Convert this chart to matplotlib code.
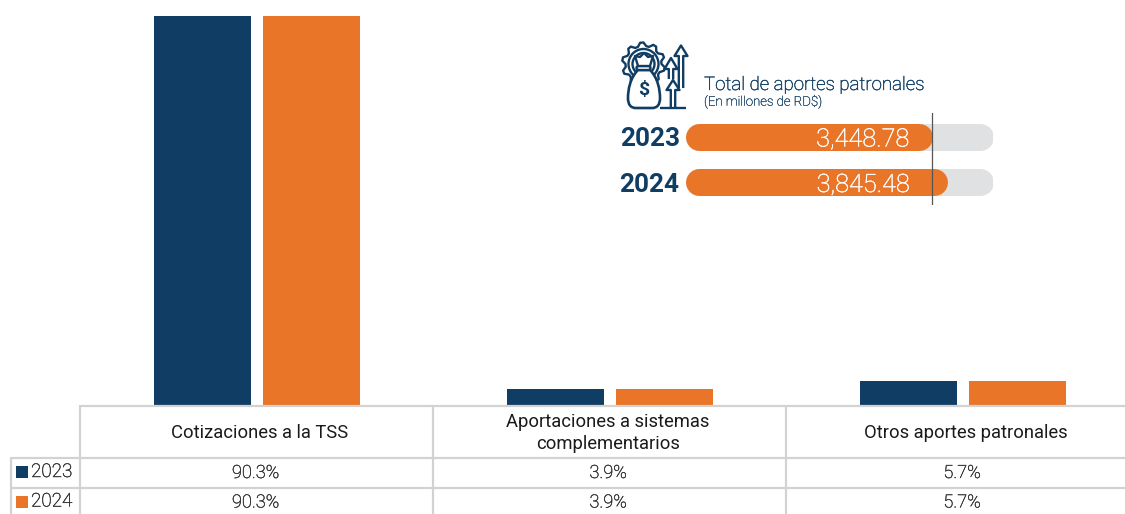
import numpy as np
import matplotlib
matplotlib.use("Agg")
import matplotlib.pyplot as plt
import matplotlib.patheffects as pe
from matplotlib.patches import Circle, FancyBboxPatch, Polygon, PathPatch, Rectangle
from matplotlib.path import Path

plt.rcParams['font.family'] = ['Roboto', 'DejaVu Sans']

categories = ["Cotizaciones a la TSS", "Aportaciones a sistemas\ncomplementarios", "Otros aportes patronales"]
years = ["2023", "2024"]
share_2023 = [90.3, 3.9, 5.7]
share_2024 = [90.3, 3.9, 5.7]
totals = [3448.78, 3845.48]

NAVY = '#103d63'
ORANGE = '#e97628'
TRACK = '#e0e1e3'
GRID = '#d2d2d2'
W, H = 1125, 514

fig = plt.figure(figsize=(W / 100, H / 100), dpi=100, facecolor='white')

def px_axes(left, top, right, bottom):
    return fig.add_axes([left / W, 1 - bottom / H, (right - left) / W, (bottom - top) / H])

def light_text(x, y, s, color, size, ha='left', stroke=0.3):
    # Roboto Light renders too thin here, a hairline stroke brings it closer
    t = ov.text(x, y, s, ha=ha, va='center', fontsize=size, color=color, fontweight='light')
    t.set_path_effects([pe.withStroke(linewidth=stroke, foreground=color)])
    return t

# Bars
ax = px_axes(80, 16, 1139, 405.5)
x = np.arange(len(categories))
bar_w = 97 / 353
off = 54.5 / 353
ax.bar(x - off, share_2023, bar_w, color=NAVY)
ax.bar(x + off, share_2024, bar_w, color=ORANGE)
ax.set_xlim(-0.5, 2.5)
ax.set_ylim(0, 90.3)
ax.axis('off')

# Overlay in pixel coordinates: table, titles, icon
ov = fig.add_axes([0, 0, 1, 1])
ov.set_xlim(0, W)
ov.set_ylim(H, 0)
ov.axis('off')
ov.patch.set_alpha(0)

# Table grid
for y, x0 in [(406, 80), (458, 11), (488, 11)]:
    ov.plot([x0, W], [y, y], color=GRID, lw=1.6, solid_capstyle='butt')
for xv in [80, 433, 786]:
    ov.plot([xv, xv], [405, H], color=GRID, lw=1.6, solid_capstyle='butt')
ov.plot([11, 11], [457, H], color=GRID, lw=1.6, solid_capstyle='butt')

head_x = [260, 608, 966]
val_x = [255.5, 608, 962]
for cx, name in zip(head_x, categories):
    ov.text(cx, 433, name, ha='center', va='center', fontsize=13.2, color='#1a1a1a', linespacing=1.3)

rows = [share_2023, share_2024]
row_y = [473, 502.5]
colors = [NAVY, ORANGE]
for yr, vals, y, c in zip(years, rows, row_y, colors):
    ov.add_patch(Rectangle((16, y - 7), 12, 12, color=c, lw=0))
    light_text(31, y - 1, yr, '#333333', 13.6)
    for cx, v in zip(val_x, vals):
        light_text(cx, y, f"{v}%", '#333333', 13.1, ha='center')

# Heading of the inset
light_text(704, 85, "Total de aportes patronales", '#123f66', 13.45)
light_text(704, 102, "(En millones de RD$)", '#123f66', 9.5, stroke=0.2)

bx = px_axes(685, 113, 993, 205)
units_per_px = (totals[1] - totals[0]) / 15
bx.set_xlim(totals[0] - 233.5 * units_per_px, totals[0] + 74.5 * units_per_px)
bx.set_ylim(205, 113)
bx.axis('off')
bx.patch.set_alpha(0)
bar_lw = 27 * 0.72
x_start = bx.get_xlim()[0] + 13.5 * units_per_px
x_end = bx.get_xlim()[1] - 13.5 * units_per_px
row_px = [136.5, 182]
label_x = [620, 619]
text_x = [909.5, 910]
for yr, v, y, lx, tx in zip(years, totals, row_px, label_x, text_x):
    bx.plot([x_start, x_end], [y, y], color=TRACK, lw=bar_lw, solid_capstyle='round')
    bx.plot([x_start, v], [y, y], color=ORANGE, lw=bar_lw, solid_capstyle='round')
    ov.text(lx, y + 3, yr, ha='left', va='center', fontsize=18.8, color=NAVY, fontweight='bold')
    light_text(tx, y + 3, f"{v:,.2f}", 'white', 18.2, ha='right')
# the marker sits on the right end of the 2023 bar, the cap adds half a bar height
bx.axvline(totals[0] + 13.5 * units_per_px, color='#555555', lw=0.9)
ov.set_zorder(3)
bx.set_zorder(2)

# Icon
cx, cy = 643.5, 64
angles = np.linspace(0, 2 * np.pi, 10 * 4, endpoint=False) + np.pi / 20
radii = [21.5, 21.5, 18, 18] * 10
gear = [(cx + r * np.cos(a), cy + r * np.sin(a)) for r, a in zip(radii, angles)]
ov.add_patch(Polygon(gear, closed=True, fill=False, edgecolor=NAVY, lw=1.7, joinstyle='round'))
ov.add_patch(Circle((cx, cy), 15, facecolor='white', edgecolor=NAVY, lw=1.7))
ov.add_patch(Circle((cx, cy), 11, facecolor='white', edgecolor=NAVY, lw=1.7))
bag = Path([(638, 70), (630, 78), (628, 90), (628, 98), (628, 105), (631, 108), (636, 108),
            (652, 108), (657, 108), (660, 105), (660, 98), (660, 90), (658, 78), (650, 70), (638, 70)],
           [Path.MOVETO, Path.CURVE4, Path.CURVE4, Path.CURVE4, Path.CURVE4, Path.CURVE4, Path.CURVE4,
            Path.LINETO, Path.CURVE4, Path.CURVE4, Path.CURVE4, Path.CURVE4, Path.CURVE4, Path.CURVE4,
            Path.CLOSEPOLY])
ov.add_patch(PathPatch(bag, facecolor='white', edgecolor=NAVY, lw=1.9))
ov.add_patch(FancyBboxPatch((636.5, 66), 14, 4, boxstyle='round,pad=0,rounding_size=2',
                            facecolor='white', edgecolor=NAVY, lw=1.7))
ov.add_patch(Polygon([(638, 66), (635, 56), (640, 57), (644, 53), (648, 57), (653, 56), (650, 66)],
                     closed=True, facecolor='white', edgecolor=NAVY, lw=1.7, joinstyle='round'))
ov.text(643.5, 90, "$", ha='center', va='center', fontsize=14, color=NAVY, fontweight='bold')

def up_arrow(xc, top, head_y, bottom, half=6.5, shaft=2.2):
    pts = [(xc - shaft, bottom), (xc - shaft, head_y), (xc - half, head_y), (xc, top),
           (xc + half, head_y), (xc + shaft, head_y), (xc + shaft, bottom)]
    ov.add_patch(Polygon(pts, closed=False, facecolor='white', edgecolor=NAVY, lw=1.7, joinstyle='round'))

up_arrow(681, 45.5, 56, 88)
up_arrow(671, 58, 69, 79)
up_arrow(673, 80, 90, 107)
ov.plot([660, 686], [107.5, 107.5], color=NAVY, lw=1.7, solid_capstyle='butt')

fig.savefig("out.png", dpi=100, facecolor='white')
